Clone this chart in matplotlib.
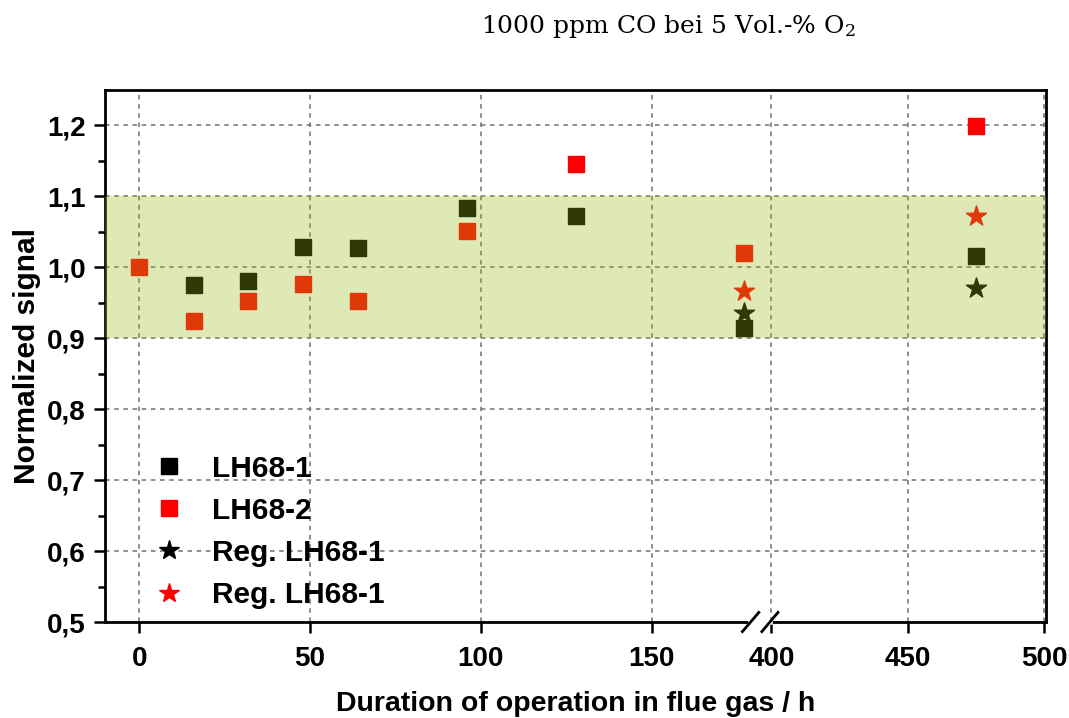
import numpy as np
import matplotlib
matplotlib.use("Agg")
import matplotlib.pyplot as plt
from matplotlib.lines import Line2D

# data (hours, normalized signal)
t_lh1 = [16, 32, 48, 64, 96, 128, 177, 475]
s_lh1 = [0.975, 0.981, 1.028, 1.027, 1.083, 1.073, 0.914, 1.016]
t_lh2 = [0, 16, 32, 48, 64, 96, 128, 177, 475]
s_lh2 = [1.000, 0.924, 0.953, 0.977, 0.953, 1.051, 1.146, 1.020, 1.199]
t_reg1 = [177, 475]
s_reg1 = [0.935, 0.971]
t_reg2 = [177, 475]
s_reg2 = [0.967, 1.072]

labels = ["LH68-1", "LH68-2", "Reg. LH68-1", "Reg. LH68-1"]
xticks = [0, 50, 100, 150, 400, 450, 500]
yticks = np.arange(0.5, 1.21, 0.1)

# broken x axis: 0..182 and 396.5..500 on one axes
kx = [-100, 182, 396.5, 600]
ku = [-342, 182 * 3.42, 182 * 3.42 + 1, 182 * 3.42 + 1 + (600 - 396.5) * 2.73]

def fwd(x):
    return np.interp(x, kx, ku)

def inv(u):
    return np.interp(u, ku, kx)

plt.rcParams['font.family'] = ['Liberation Sans Narrow', 'Liberation Sans', 'DejaVu Sans']
plt.rcParams['mathtext.fontset'] = 'dejavuserif'

fig = plt.figure(figsize=(10.69, 7.18), dpi=100)
ax = fig.add_axes([0.0982, 0.1337, 0.8803, 0.741])
ax.set_xscale('function', functions=(fwd, inv))
ax.set_xlim(-10, 500.7)
ax.set_ylim(0.5, 1.25)

dark = 'black'
red = '#ff0000'
ax.scatter(t_lh1, s_lh1, marker='s', s=130, color=dark, zorder=2)
ax.scatter(t_lh2, s_lh2, marker='s', s=130, color=red, zorder=2)
ax.scatter(t_reg1, s_reg1, marker='*', s=230, color=dark, zorder=2)
ax.scatter(t_reg2, s_reg2, marker='*', s=230, color=red, zorder=2)

# tolerance band drawn over the points
ax.axhspan(0.9, 1.1, color='#99b919', alpha=0.314, lw=0, zorder=3)

ax.set_xticks(xticks)
ax.set_yticks(yticks)
ax.set_yticks(np.arange(0.55, 1.25, 0.1), minor=True)
ax.set_yticklabels([f"{v:.1f}".replace('.', ',') for v in yticks])
ax.tick_params(axis='both', which='major', direction='out', length=8, width=1.8,
               labelsize=20, pad=6)
ax.tick_params(axis='x', which='major', pad=9)
ax.tick_params(axis='y', which='minor', direction='out', length=5, width=1.8)
for lab in ax.get_xticklabels() + ax.get_yticklabels():
    lab.set_fontweight('bold')
ax.grid(True, which='major', linestyle=(0, (3, 3)), color='#707070', linewidth=1.1)
ax.set_axisbelow(True)
for sp in ax.spines.values():
    sp.set_linewidth(2)

ax.set_xlabel('Duration of operation in flue gas / h', fontsize=20.5, fontweight='bold',
              labelpad=14)
ax.set_ylabel('Normalized signal', fontsize=21.5, fontweight='bold', labelpad=4)

# break marks on the x axis
xt = ax.get_xaxis_transform()
ax.plot([179, 399.3], [0, 0], color='white', lw=4, transform=xt, clip_on=False, zorder=5)
ax.plot([176.6, 181.4], [-0.018, 0.018], color='black', lw=2, transform=xt, clip_on=False, zorder=6)
ax.plot([396.2, 402.4], [-0.018, 0.018], color='black', lw=2, transform=xt, clip_on=False, zorder=6)

handles = [
    Line2D([], [], marker='s', ls='none', color='black', markersize=11),
    Line2D([], [], marker='s', ls='none', color=red, markersize=11),
    Line2D([], [], marker='*', ls='none', color='black', markersize=15),
    Line2D([], [], marker='*', ls='none', color=red, markersize=15),
]
ax.legend(handles, labels, loc='lower left', bbox_to_anchor=(0.02, -0.026), frameon=False,
          prop={'size': 21.5, 'weight': 'bold'}, handletextpad=0.85, labelspacing=0.47,
          handlelength=1.2)

fig.text(0.625, 0.963, '1000 ppm CO bei 5 Vol.-% O$_2$', ha='center', va='center',
         fontsize=18, family='DejaVu Serif', weight='normal')

fig.savefig('out.png', dpi=100)
